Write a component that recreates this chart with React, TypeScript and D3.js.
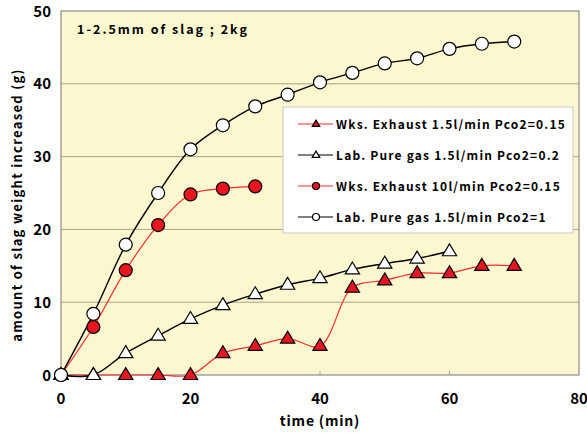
import React from "react";
import * as d3 from "d3";

const xTicks = [0, 20, 40, 60, 80];
const yTicks = [0, 10, 20, 30, 40, 50];

const timeA = [0, 5, 10, 15, 20, 25, 30, 35, 40, 45, 50, 55, 60, 65, 70];
const wksExhaust15 = [0, 0, 0, 0, 0, 3, 4, 5, 4, 12, 13, 14, 14, 15, 15];

const timeB = [0, 5, 10, 15, 20, 25, 30, 35, 40, 45, 50, 55, 60];
const labPure02 = [0, 0, 3, 5.4, 7.7, 9.6, 11.1, 12.4, 13.3, 14.5, 15.3, 16, 17];

const timeC = [0, 5, 10, 15, 20, 25, 30];
const wksExhaust10 = [0, 6.6, 14.4, 20.6, 24.8, 25.6, 25.9];

const timeD = [0, 5, 10, 15, 20, 25, 30, 35, 40, 45, 50, 55, 60, 65, 70];
const labPure1 = [0, 8.4, 17.9, 25, 31, 34.3, 36.9, 38.5, 40.2, 41.5, 42.8, 43.5, 44.8, 45.5, 45.8];

const seriesNames = [
  "Wks. Exhaust 1.5l/min Pco2=0.15",
  "Lab. Pure gas 1.5l/min Pco2=0.2",
  "Wks. Exhaust 10l/min Pco2=0.15",
  "Lab. Pure gas 1.5l/min Pco2=1",
];

const FONT = "'Noto Sans CJK JP', 'Noto Sans', sans-serif";
const RED = "#ff2a2a";

type S = { name: string; xs: number[]; ys: number[]; line: string; fill: string; shape: "tri" | "circ" };

const series: S[] = [
  { name: seriesNames[0], xs: timeA, ys: wksExhaust15, line: RED, fill: "#e8141e", shape: "tri" },
  { name: seriesNames[1], xs: timeB, ys: labPure02, line: "#000", fill: "#fff", shape: "tri" },
  { name: seriesNames[2], xs: timeC, ys: wksExhaust10, line: RED, fill: "#e8141e", shape: "circ" },
  { name: seriesNames[3], xs: timeD, ys: labPure1, line: "#000", fill: "#fff", shape: "circ" },
];

function Marker({ cx, cy, shape, fill, size }: { cx: number; cy: number; shape: string; fill: string; size: number }) {
  if (shape === "circ") {
    return <circle cx={cx} cy={cy} r={size} fill={fill} stroke="#000" strokeWidth={1.2} />;
  }
  const h = size * 1.75;
  const w = size * 2.1;
  const pts = `${cx},${cy - h * 0.62} ${cx - w / 2},${cy + h * 0.38} ${cx + w / 2},${cy + h * 0.38}`;
  return <polygon points={pts} fill={fill} stroke="#000" strokeWidth={1.2} strokeLinejoin="miter" />;
}

export default function App() {
  const W = 587, H = 433;
  const left = 61, right = 579, top = 11, bottom = 375;
  const x = d3.scaleLinear().domain([0, 80]).range([left, right]);
  const y = d3.scaleLinear().domain([0, 50]).range([bottom, top]);
  const lineGen = d3
    .line<[number, number]>()
    .x((d) => x(d[0]))
    .y((d) => y(d[1]))
    .curve(d3.curveCatmullRom.alpha(0.5));

  const legX = 283, legY = 107, legW = 290, legH = 126;
  const rowY = [124, 155, 186, 217];

  return (
    <svg width={W} height={H} style={{ position: "absolute", left: 0, top: 0 }}>
      <rect x={0} y={0} width={W} height={H} fill="#fff" />
      <rect x={left} y={top} width={right - left} height={bottom - top} fill="#fbf7cf" />
      {yTicks.slice(1, -1).map((t) => (
        <line key={t} x1={left} x2={right} y1={y(t)} y2={y(t)} stroke="#a8a28a" strokeWidth={1} />
      ))}
      {xTicks.slice(1, -1).map((t) => (
        <line key={t} x1={x(t)} x2={x(t)} y1={bottom} y2={bottom - 4} stroke="#a8a28a" strokeWidth={1} />
      ))}
      <rect x={left} y={top} width={right - left} height={bottom - top} fill="none" stroke="#8c8c8c" strokeWidth={1.2} />

      <text x={77} y={34} fontFamily={FONT} fontWeight="bold" fontSize={12.5} letterSpacing={2} fill="#000">
        1-2.5mm of slag ; 2kg
      </text>

      {series.map((s, i) => (
        <path
          key={"l" + i}
          d={lineGen(s.xs.map((v, j) => [v, s.ys[j]] as [number, number])) || ""}
          fill="none"
          stroke={s.line}
          strokeWidth={s.line === "#000" ? 1.4 : 1.2}
        />
      ))}
      {series.map((s, i) => (
        <g key={"m" + i}>
          {s.xs.map((v, j) => (
            <Marker key={j} cx={x(v)} cy={y(s.ys[j])} shape={s.shape} fill={s.fill} size={s.shape === "circ" ? 6.5 : 6.8} />
          ))}
        </g>
      ))}

      <rect x={legX} y={legY} width={legW} height={legH} fill="#fff" stroke="#c8c8c8" strokeWidth={1} />
      {series.map((s, i) => (
        <g key={"lg" + i}>
          <line x1={298} x2={333} y1={rowY[i]} y2={rowY[i]} stroke={s.line} strokeWidth={1.2} />
          <Marker cx={316} cy={rowY[i]} shape={s.shape} fill={s.fill} size={s.shape === "circ" ? 3.5 : 3.6} />
          <text x={336} y={rowY[i] + 4.5} fontFamily={FONT} fontWeight="bold" fontSize={12} letterSpacing={1.2} fill="#000">
            {s.name}
          </text>
        </g>
      ))}

      {yTicks.map((t) => (
        <text key={t} x={51} y={y(t) + 5.5} textAnchor="end" fontFamily={FONT} fontWeight="bold" fontSize={15} fill="#000">
          {t}
        </text>
      ))}
      {xTicks.map((t) => (
        <text key={t} x={x(t)} y={404} textAnchor="middle" fontFamily={FONT} fontWeight="bold" fontSize={15} fill="#000">
          {t}
        </text>
      ))}
      <text x={320} y={426} textAnchor="middle" fontFamily={FONT} fontWeight="bold" fontSize={14} letterSpacing={0.8} fill="#000">
        time (min)
      </text>
      <text
        transform={`translate(22, ${(62 + 348) / 2}) rotate(-90)`}
        textAnchor="middle"
        fontFamily={FONT}
        fontWeight="bold"
        fontSize={13}
        letterSpacing={1.3}
        fill="#000"
      >
        amount of slag weight increased (g)
      </text>
    </svg>
  );
}
